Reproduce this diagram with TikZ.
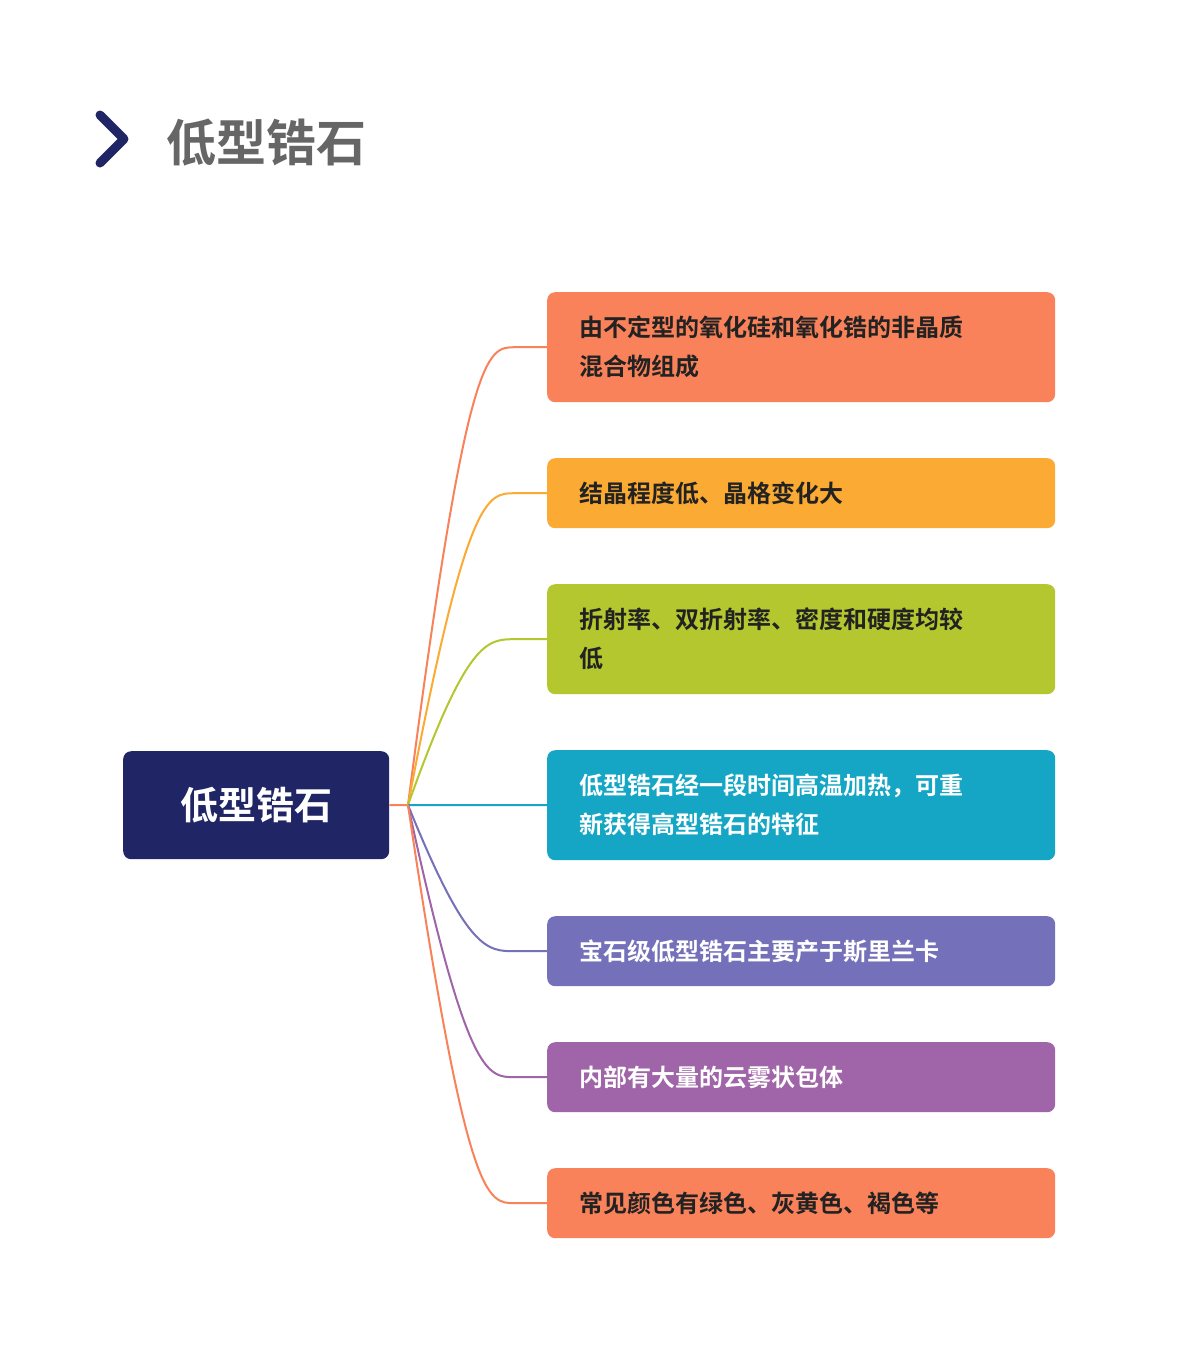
\documentclass[tikz,border=0pt]{standalone}
\usepackage{fontspec}
\setmainfont{Noto Sans CJK SC}
\newfontfamily\cjkb{Noto Sans CJK SC Bold}
\definecolor{navy}{HTML}{1F2565}
\definecolor{cA}{HTML}{F9825A}
\definecolor{cB}{HTML}{FBAA33}
\definecolor{cC}{HTML}{B5C72F}
\definecolor{cD}{HTML}{14A6C4}
\definecolor{cE}{HTML}{7470B9}
\definecolor{cF}{HTML}{A065A8}
\definecolor{tdark}{HTML}{222222}
\begin{document}
\begin{tikzpicture}[x=1pt,y=-1pt,
  leaf/.style={rounded corners=8pt,minimum width=508pt,inner sep=0pt,anchor=north west},
  ltext/.style={anchor=west,align=left,text width=460pt,font=\cjkb\fontsize{24}{39}\selectfont},
  conn/.style={line width=2pt}]
\useasboundingbox (0,0) rectangle (1179,1353);
\fill[white] (0,0) rectangle (1179,1353);
\draw[navy,line width=9pt,line cap=round,line join=round] (100,115) -- (124,139) -- (100,163);
\node[anchor=west,text=gray!80!black,font=\cjkb\fontsize{50}{50}\selectfont] (title) at (163,143) {低型锆石};
\node[fill=navy,rounded corners=8pt,minimum width=266pt,minimum height=108pt,anchor=north west,text=white,font=\cjkb\fontsize{38}{38}\selectfont] (root) at (123,751) {低型锆石};
\coordinate (hub) at (408,805);
\draw[cA,conn] (root.east) -- (hub);
\foreach \n/\y/\h/\c/\tc/\t in {
 a/292/110/cA/tdark/{由不定型的氧化硅和氧化锆的非晶质\\混合物组成},
 b/458/70/cB/tdark/{结晶程度低、晶格变化大},
 c/584/110/cC/tdark/{折射率、双折射率、密度和硬度均较\\低},
 d/750/110/cD/white/{低型锆石经一段时间高温加热，可重\\新获得高型锆石的特征},
 e/916/70/cE/white/{宝石级低型锆石主要产于斯里兰卡},
 f/1042/70/cF/white/{内部有大量的云雾状包体},
 g/1168/70/cA/tdark/{常见颜色有绿色、灰黄色、褐色等}}{
 \node[leaf,fill=\c,minimum height=\h pt] (\n) at (547,\y) {};
 \node[ltext,text=\tc] (\n t) at ([xshift=29pt]\n.west) {\t};
 \draw[\c,conn] (hub) .. controls ([xshift=-80pt]\n.west |- \n.west) and ([xshift=-60pt]\n.west) .. ([xshift=-32pt]\n.west) -- (\n.west);
}
\end{tikzpicture}
\end{document}
